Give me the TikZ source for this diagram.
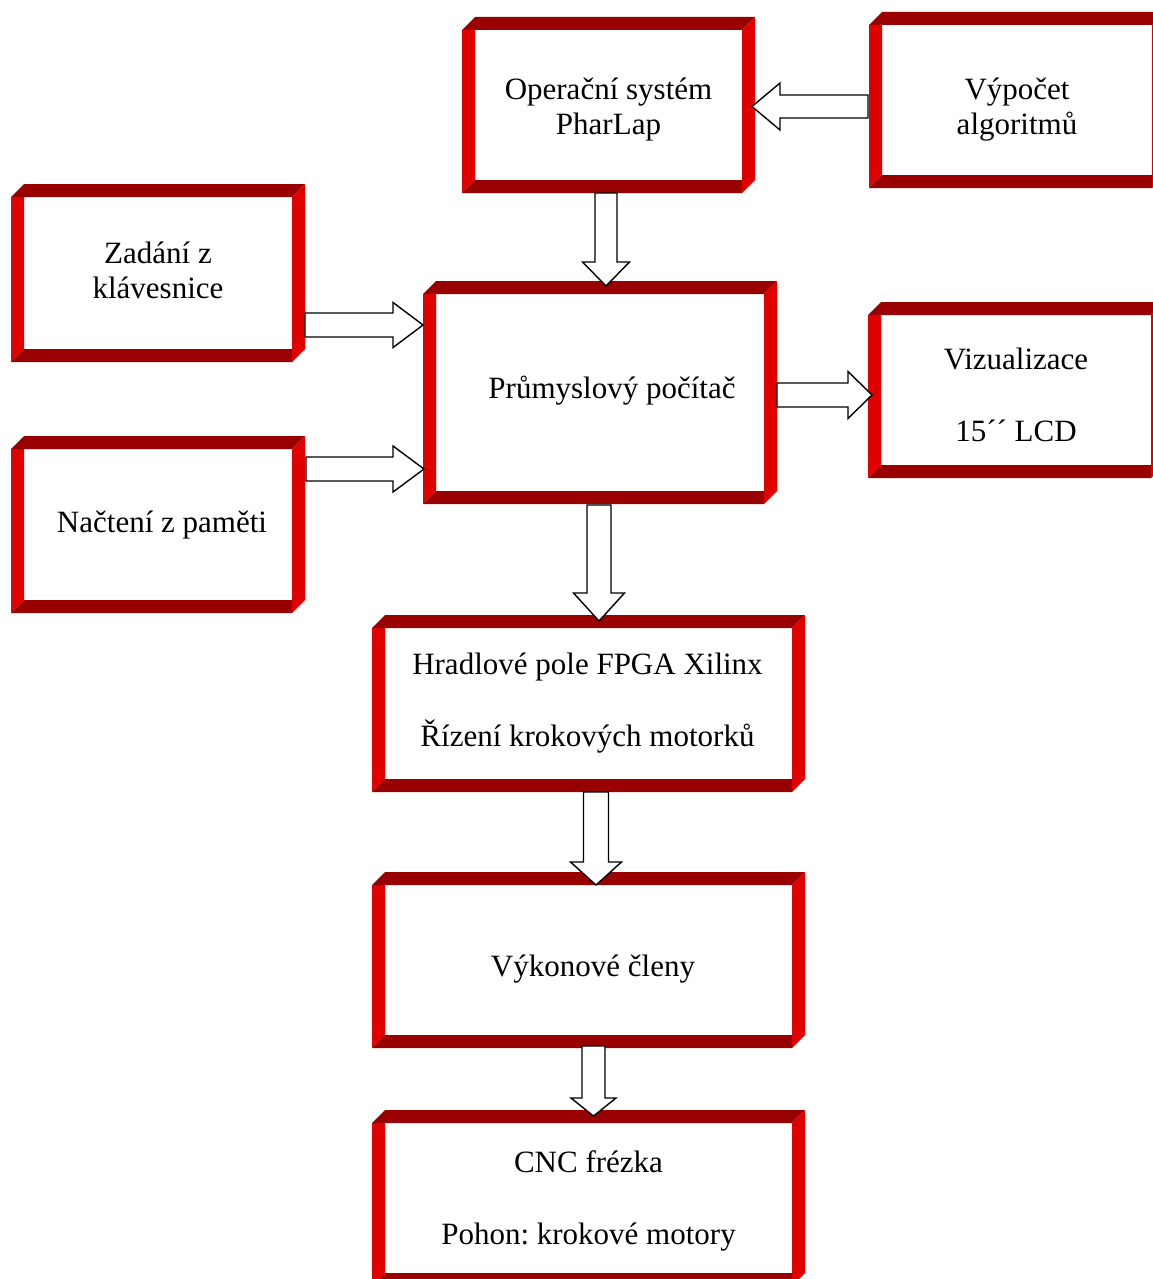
\documentclass[tikz,border=0pt]{standalone}
\usepackage{fontspec}
\setmainfont{Liberation Serif}
\frenchspacing
\usetikzlibrary{calc}
\definecolor{rbright}{RGB}{224,0,0}
\definecolor{rdark}{RGB}{153,0,0}
\tikzset{
  bevbox/.style={rectangle, inner sep=0pt, outer sep=0pt,
    path picture={
      \fill[rdark] let \p1=(path picture bounding box.south west), \p2=(path picture bounding box.north east) in
        (\x1,\y2-13pt) -- (\x1+13pt,\y2) -- (\x2,\y2) -- (\x2-13pt,\y2-13pt) -- cycle;
      \fill[rbright] let \p1=(path picture bounding box.south west), \p2=(path picture bounding box.north east) in
        (\x1,\y2-13pt) -- (\x1+13pt,\y2-13pt) -- (\x1+13pt,\y1+13pt) -- (\x1,\y1) -- cycle;
      \fill[rdark] let \p1=(path picture bounding box.south west), \p2=(path picture bounding box.north east) in
        (\x1,\y1) -- (\x1+13pt,\y1+13pt) -- (\x2-13pt,\y1+13pt) -- (\x2-13pt,\y1) -- cycle;
      \fill[rbright] let \p1=(path picture bounding box.south west), \p2=(path picture bounding box.north east) in
        (\x2-13pt,\y2-13pt) -- (\x2,\y2) -- (\x2,\y1+13pt) -- (\x2-13pt,\y1) -- cycle;
    }},
  txt/.style={inner sep=0pt, align=center, font=\fontsize{31}{35}\selectfont},
  blk/.style={draw=black, fill=white, line width=1.4pt, line join=miter}
}
\newcommand\blockarr[5]{%
  \coordinate (ba-h) at ($(#2)!#5!(#1)$);
  \draw[blk] ($(#1)!#3!90:(#2)$) -- ($(ba-h)!#3!-90:(#1)$) -- ($(ba-h)!#4!-90:(#1)$) -- (#2)
    -- ($(ba-h)!#4!90:(#1)$) -- ($(ba-h)!#3!90:(#1)$) -- ($(#1)!#3!-90:(#2)$) -- cycle;}
\begin{document}
\begin{tikzpicture}[x=1pt,y=-1pt]
\useasboundingbox[fill=white] (0,0) rectangle (1153,1279);

\node[bevbox, minimum width=293pt, minimum height=176pt] (os) at (608.5,105) {};
\node[bevbox, minimum width=296pt, minimum height=176pt] (calc) at (1017,100) {};
\node[bevbox, minimum width=294pt, minimum height=178pt] (key) at (158,273) {};
\node[bevbox, minimum width=354pt, minimum height=223pt] (pc) at (600,392.5) {};
\node[bevbox, minimum width=296pt, minimum height=176pt] (viz) at (1016,390) {};
\node[bevbox, minimum width=294pt, minimum height=177pt] (mem) at (158,524.5) {};
\node[bevbox, minimum width=433pt, minimum height=177pt] (fpga) at (588.5,703.5) {};
\node[bevbox, minimum width=433pt, minimum height=176pt] (pow) at (588.5,960) {};
\node[bevbox, minimum width=433pt, minimum height=176pt] (cnc) at (588.5,1198) {};

\node[txt] (os-t) at ($(os)+(0,5)$) {Operační systém\\PharLap};
\node[txt] (calc-t) at ($(calc)+(0,10)$) {Výpočet\\algoritmů};
\node[txt] (key-t) at ($(key)+(0,-3)$) {Zadání z\\klávesnice};
\node[txt] (pc-t) at ($(pc)+(12,-2)$) {Průmyslový počítač};
\node[txt] (viz-t) at ($(viz)+(0,5)$) {Vizualizace\\[37pt]15´´ LCD};
\node[txt] (mem-t) at ($(mem)+(4,1)$) {Načtení z paměti};
\node[txt] (fpga-t) at ($(fpga)+(-1,0)$) {Hradlové pole FPGA Xilinx\\[37pt]Řízení krokových motorků};
\node[txt] (pow-t) at ($(pow)+(4.5,9)$) {Výkonové členy};
\node[txt] (cnc-t) at ($(cnc)+(0,3)$) {CNC frézka\\[37pt]Pohon: krokové motory};

% arrows
\coordinate (a1s) at ($(os.south)+(-2.5,0)$);
\coordinate (a1t) at ($(a1s |- pc.north)+(0,5)$);
\blockarr{a1s}{a1t}{11pt}{23.5pt}{24pt}

\coordinate (a2s) at ($(calc.west)+(-1,6.5)$);
\coordinate (a2t) at ($(a2s -| os.east)+(-3,0)$);
\blockarr{a2s}{a2t}{11.5pt}{23.5pt}{28pt}

\coordinate (a3s) at ($(key.east)+(0,52)$);
\coordinate (a3t) at (a3s -| pc.west);
\blockarr{a3s}{a3t}{12pt}{22.5pt}{30pt}

\coordinate (a4s) at ($(mem.east)+(1,-55.5)$);
\coordinate (a4t) at ($(a4s -| pc.west)+(1,0)$);
\blockarr{a4s}{a4t}{12pt}{23pt}{31pt}

\coordinate (a5s) at ($(pc.east)+(0,2.5)$);
\coordinate (a5t) at ($(a5s -| viz.west)+(4,0)$);
\blockarr{a5s}{a5t}{12pt}{23.5pt}{24pt}

\coordinate (a6s) at ($(pc.south)+(-1,1)$);
\coordinate (a6t) at ($(a6s |- fpga.north)+(0,6)$);
\blockarr{a6s}{a6t}{12pt}{25.5pt}{28pt}

\coordinate (a7s) at ($(fpga.south)+(7.5,0)$);
\coordinate (a7t) at ($(a7s |- pow.north)+(0,13)$);
\blockarr{a7s}{a7t}{12.5pt}{25.5pt}{23pt}

\coordinate (a8s) at ($(pow.south)+(5,-2)$);
\coordinate (a8t) at ($(a8s |- cnc.north)+(0,6)$);
\blockarr{a8s}{a8t}{11.5pt}{22.5pt}{18pt}
\end{tikzpicture}
\end{document}
